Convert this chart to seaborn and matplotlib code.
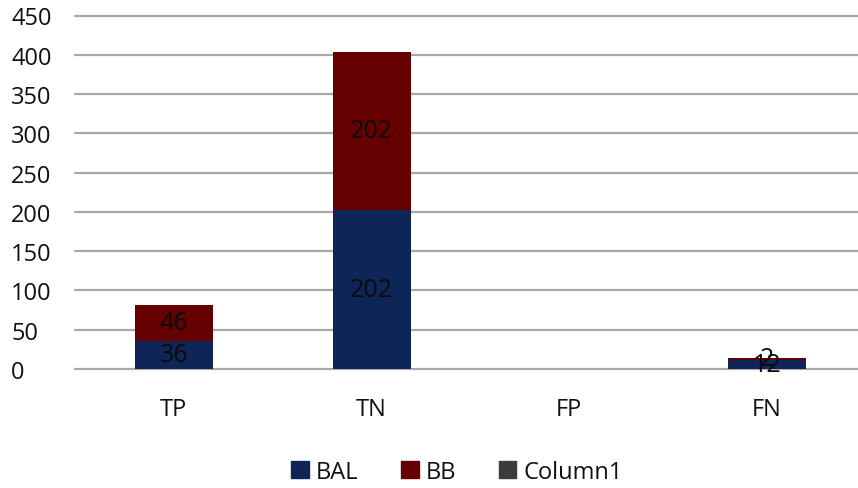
import matplotlib
matplotlib.use("Agg")
import matplotlib.pyplot as plt
import seaborn as sns
import pandas as pd
from matplotlib.patches import Patch

categories = ["TP", "TN", "FP", "FN"]
bal_values = [36, 202, 0, 12]
bb_values = [46, 202, 0, 2]
column1_values = [0, 0, 0, 0]
y_ticks = [0, 50, 100, 150, 200, 250, 300, 350, 400, 450]

col_bal = "#0E2657"
col_bb = "#660000"
col_c1 = "#3B3C3E"

sns.set_theme(style="white")
plt.rcParams["font.family"] = ["Open Sans", "DejaVu Sans"]

df = pd.DataFrame({"cat": categories, "BAL": bal_values, "BB": bb_values})
df["top"] = df["BAL"] + df["BB"]

fig = plt.figure(figsize=(8.58, 4.89), dpi=100)
W, H = 858, 489
ax = fig.add_axes([75 / W, 1 - 370 / H, (858 - 75) / W, (370 - 16.5) / H])

sns.barplot(data=df, x="cat", y="top", color=col_bb, width=0.395,
            saturation=1, ax=ax, zorder=3, linewidth=0, edgecolor="none")
sns.barplot(data=df, x="cat", y="BAL", color=col_bal, width=0.395,
            saturation=1, ax=ax, zorder=3, linewidth=0, edgecolor="none")

ax.set_xlim(-0.5, 3.46)
ax.set_ylim(0, 450)
ax.set_yticks(y_ticks)
ax.set_xlabel("")
ax.set_ylabel("")
for s in ax.spines.values():
    s.set_visible(False)
for y in y_ticks:
    ax.axhline(y, color="#A8A8A8", lw=1.6, zorder=1, clip_on=False)

ax.tick_params(axis="y", length=0, pad=46, labelsize=17, labelcolor="#111111")
for t in ax.get_yticklabels():
    t.set_ha("left")
ax.tick_params(axis="x", length=0, pad=20, labelsize=17, labelcolor="#111111")

for i, (b, t) in enumerate(zip(bal_values, bb_values)):
    if b > 0:
        ax.text(i, b / 2, str(b), ha="center", va="center", fontsize=18,
                color="#0a0a0a", zorder=5)
    if t > 0:
        ax.text(i, b + t / 2, str(t), ha="center", va="center", fontsize=18,
                color="#0a0a0a", zorder=5)

handles = [Patch(color=col_bal, label="BAL"), Patch(color=col_bb, label="BB"),
           Patch(color=col_c1, label="Column1")]
fig.legend(handles=handles, loc="center", bbox_to_anchor=(457 / W, 1 - 473 / H),
           ncol=3, frameon=False, fontsize=17, handlelength=0.75, handleheight=0.75,
           handletextpad=0.3, columnspacing=1.8, labelcolor="#111111")

fig.savefig("out.png", dpi=100)
